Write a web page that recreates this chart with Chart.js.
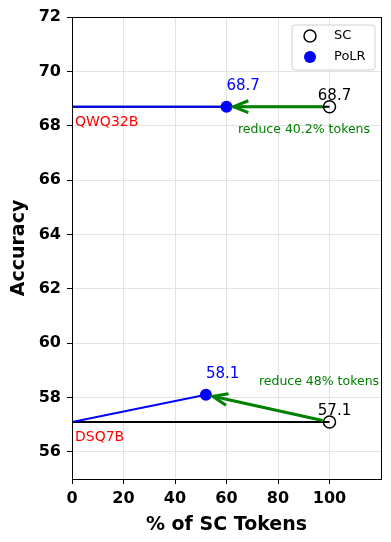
<!DOCTYPE html>
<html lang="en">
<head>
    <meta charset="UTF-8">
    <script src="https://cdn.jsdelivr.net/npm/chart.js"></script>
    <title>PoLR vs SC</title>
    <style>
        body { margin: 0; background: #fff; }
        #wrap { width: 391px; height: 542px; }
    </style>
</head>
<body>
    <div id="wrap"><canvas id="myChart"></canvas></div>
    <script>
        // datos
        const models = ['QWQ32B', 'DSQ7B'];
        const scTokens = [100, 100];
        const scAcc = [68.7, 57.1];
        const polrTokens = [60, 52];
        const polrAcc = [68.7, 58.1];
        const reduceLabels = ['reduce 40.2% tokens', 'reduce 48% tokens'];
        const xTicks = [0, 20, 40, 60, 80, 100];
        const yTicks = [56, 58, 60, 62, 64, 66, 68, 70, 72];

        const FONT = "'DejaVu Sans', sans-serif";

        // lineas por modelo
        const lineSets = [];
        models.forEach((m, i) => {
            lineSets.push({
                data: [{ x: 0, y: scAcc[i] }, { x: scTokens[i], y: scAcc[i] }],
                showLine: true, borderColor: '#000', borderWidth: 2,
                pointRadius: 0, order: 5
            });
            lineSets.push({
                data: [{ x: 0, y: scAcc[i] }, { x: polrTokens[i], y: polrAcc[i] }],
                showLine: true, borderColor: '#0000ff', borderWidth: 2,
                pointRadius: 0, order: 4
            });
        });

        const annotations = {
            id: 'annotations',
            afterDatasetsDraw(chart) {
                const ctx = chart.ctx;
                const xs = chart.scales.x, ys = chart.scales.y;
                ctx.save();
                models.forEach((m, i) => {
                    const sx = xs.getPixelForValue(scTokens[i]), sy = ys.getPixelForValue(scAcc[i]);
                    const px = xs.getPixelForValue(polrTokens[i]), py = ys.getPixelForValue(polrAcc[i]);

                    // flecha verde
                    const ang = Math.atan2(py - sy, px - sx);
                    const x1 = sx + Math.cos(ang) * 7, y1 = sy + Math.sin(ang) * 7;
                    const x2 = px - Math.cos(ang) * 7, y2 = py - Math.sin(ang) * 7;
                    ctx.strokeStyle = 'green';
                    ctx.lineWidth = 3;
                    ctx.lineCap = 'butt';
                    ctx.beginPath();
                    ctx.moveTo(x1, y1);
                    ctx.lineTo(x2, y2);
                    ctx.stroke();
                    ctx.beginPath();
                    const hl = 16, ha = 0.38;
                    ctx.moveTo(x2 - Math.cos(ang - ha) * hl, y2 - Math.sin(ang - ha) * hl);
                    ctx.lineTo(x2, y2);
                    ctx.lineTo(x2 - Math.cos(ang + ha) * hl, y2 - Math.sin(ang + ha) * hl);
                    ctx.stroke();

                    // textos
                    ctx.textBaseline = 'alphabetic';
                    ctx.font = '15px ' + FONT;
                    ctx.fillStyle = '#0000ff';
                    ctx.textAlign = 'left';
                    ctx.fillText(polrAcc[i].toFixed(1), px, py - 17);
                    ctx.fillStyle = '#000';
                    ctx.textAlign = 'center';
                    ctx.fillText(scAcc[i].toFixed(1), sx + 5, sy - 7);

                    ctx.fillStyle = 'red';
                    ctx.textAlign = 'left';
                    ctx.font = '14px ' + FONT;
                    ctx.fillText(m, xs.getPixelForValue(0) + 3, ys.getPixelForValue(scAcc[i]) + 19);

                    ctx.fillStyle = 'green';
                    ctx.font = '12.5px ' + FONT;
                    ctx.textAlign = 'center';
                    const rx = i === 0 ? 304 : 319;
                    const ry = i === 0 ? sy + 26 : sy - 37;
                    ctx.fillText(reduceLabels[i], rx, ry);
                });
                ctx.restore();
            },
            afterDraw(chart) {
                const ctx = chart.ctx;
                const a = chart.chartArea;
                ctx.save();
                // marco
                ctx.strokeStyle = '#000';
                ctx.lineWidth = 1;
                ctx.strokeRect(Math.round(a.left) + 0.5, Math.round(a.top) + 0.5,
                    Math.round(a.right - a.left), Math.round(a.bottom - a.top));

                // leyenda
                const lx = a.right - 89, ly = a.top + 8, lw = 83, lh = 45;
                ctx.fillStyle = 'rgba(255,255,255,0.85)';
                ctx.strokeStyle = '#d0d0d0';
                ctx.beginPath();
                ctx.roundRect(lx, ly, lw, lh, 3);
                ctx.fill();
                ctx.stroke();
                ctx.lineWidth = 1.5;
                ctx.strokeStyle = '#000';
                ctx.beginPath();
                ctx.arc(lx + 18, ly + 11, 6, 0, Math.PI * 2);
                ctx.stroke();
                ctx.fillStyle = '#0000ff';
                ctx.beginPath();
                ctx.arc(lx + 18, ly + 32, 6, 0, Math.PI * 2);
                ctx.fill();
                ctx.fillStyle = '#000';
                ctx.font = '13px ' + FONT;
                ctx.textAlign = 'left';
                ctx.textBaseline = 'middle';
                ctx.fillText('SC', lx + 42, ly + 11);
                ctx.fillText('PoLR', lx + 42, ly + 32);
                ctx.restore();
            }
        };

        const ctx = document.getElementById('myChart').getContext('2d');
        new Chart(ctx, {
            type: 'scatter',
            data: {
                datasets: [
                    ...lineSets,
                    {
                        label: 'SC',
                        data: scTokens.map((t, i) => ({ x: t, y: scAcc[i] })),
                        pointRadius: 6, pointBorderWidth: 1.5,
                        borderColor: '#000', backgroundColor: 'rgba(0,0,0,0)', order: 2
                    },
                    {
                        label: 'PoLR',
                        data: polrTokens.map((t, i) => ({ x: t, y: polrAcc[i] })),
                        pointRadius: 6, pointBorderWidth: 0,
                        borderColor: '#0000ff', backgroundColor: '#0000ff', order: 1
                    }
                ]
            },
            options: {
                responsive: true,
                maintainAspectRatio: false,
                animation: false,
                layout: { padding: { top: 17, right: 10, left: 0, bottom: 0 } },
                plugins: { legend: { display: false }, tooltip: { enabled: false } },
                scales: {
                    x: {
                        type: 'linear', min: 0, max: 120,
                        afterBuildTicks: s => { s.ticks = xTicks.map(v => ({ value: v })); },
                        afterFit: s => { s.height = 63; },
                        ticks: { color: '#000', font: { family: FONT, size: 16, weight: 'bold' }, padding: 5 },
                        grid: { color: '#e3e3e3', tickColor: '#000', tickLength: 5 },
                        border: { color: '#000' },
                        title: { display: true, text: '% of SC Tokens', color: '#000',
                                 font: { family: FONT, size: 19, weight: 'bold' }, padding: { top: 6, bottom: 6 } }
                    },
                    y: {
                        type: 'linear', min: 55, max: 72,
                        afterBuildTicks: s => { s.ticks = yTicks.map(v => ({ value: v })); },
                        afterFit: s => { s.width = 72; },
                        ticks: { color: '#000', font: { family: FONT, size: 16, weight: 'bold' }, padding: 6 },
                        grid: { color: '#e3e3e3', tickColor: '#000', tickLength: 5 },
                        border: { color: '#000' },
                        title: { display: true, text: 'Accuracy', color: '#000',
                                 font: { family: FONT, size: 19, weight: 'bold' }, padding: { top: 8, bottom: 8 } }
                    }
                }
            },
            plugins: [annotations]
        });
    </script>
</body>
</html>
